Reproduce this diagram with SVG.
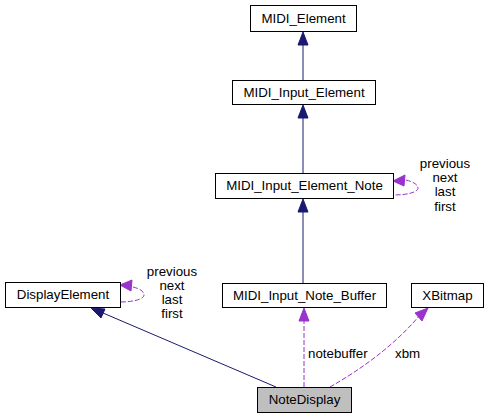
<svg xmlns="http://www.w3.org/2000/svg" width="488" height="419" viewBox="0 0 488 419">
<defs>
<style>
.box{fill:#ffffff;stroke:#000000;stroke-width:1}
.cur{fill:#bfbfbf;stroke:#000000;stroke-width:1}
text{font-family:"Liberation Sans",Arial,sans-serif;font-size:13.3px;fill:#000000}
.c{text-anchor:middle}
.inh{stroke:#191970;stroke-width:1;fill:none}
.use{stroke:#9a32cd;stroke-width:1;fill:none;stroke-dasharray:5,2}
.ahb{fill:#191970;stroke:#191970}
.ahp{fill:#9a32cd;stroke:#9a32cd}
</style>
</defs>
<rect width="488" height="419" fill="#ffffff"/>
<g id="edges">
<!-- inheritance -->
<line class="inh" x1="303" y1="80" x2="303" y2="45"/>
<polygon class="ahb" points="303,32 298,45 308,45"/>
<line class="inh" x1="303" y1="173" x2="303" y2="118"/>
<polygon class="ahb" points="303,105 298,118 308,118"/>
<line class="inh" x1="303" y1="283" x2="303" y2="212"/>
<polygon class="ahb" points="303,199 298,212 308,212"/>
<line class="inh" x1="276" y1="387" x2="103" y2="313"/>
<polygon class="ahb" points="91,308 101,318 105,309"/>
<!-- usage -->
<line class="use" x1="304" y1="387" x2="304" y2="321"/>
<polygon class="ahp" points="304,308 299,321 309,321"/>
<path class="use" d="M330,387 C360,370 395,345 419,316"/>
<polygon class="ahp" points="428,308 415,313 422,321"/>
<path class="use" d="M406,180 C414,182 418,185 418,188 C418,192 408,195 393,195"/>
<polygon class="ahp" points="393,181 405,175 404,186"/>
<path class="use" d="M133,287 C141,289 144,292 144,295 C144,299 134,302 120,302"/>
<polygon class="ahp" points="120,285 132,280 131,291"/>
<text x="308" y="358">notebuffer</text>
<text x="395" y="358">xbm</text>
<text class="c" x="445" y="168">previous</text>
<text class="c" x="445" y="182">next</text>
<text class="c" x="445" y="196">last</text>
<text class="c" x="445" y="211">first</text>
<text class="c" x="172" y="276">previous</text>
<text class="c" x="172" y="290">next</text>
<text class="c" x="172" y="304">last</text>
<text class="c" x="172" y="318">first</text>
</g>
<g id="MIDI_Element">
<rect class="box" x="250.5" y="5.5" width="106" height="26"/>
<text class="c" x="303.5" y="23">MIDI_Element</text>
</g>
<g id="MIDI_Input_Element">
<rect class="box" x="232.5" y="80.5" width="143" height="24"/>
<text class="c" x="304" y="97">MIDI_Input_Element</text>
</g>
<g id="MIDI_Input_Element_Note">
<rect class="box" x="215.5" y="173.5" width="178" height="25"/>
<text class="c" x="304.5" y="190">MIDI_Input_Element_Note</text>
</g>
<g id="DisplayElement">
<rect class="box" x="5.5" y="282.5" width="115" height="25"/>
<text class="c" x="63" y="299">DisplayElement</text>
</g>
<g id="MIDI_Input_Note_Buffer">
<rect class="box" x="222.5" y="283.5" width="164" height="24"/>
<text class="c" x="304.5" y="300">MIDI_Input_Note_Buffer</text>
</g>
<g id="XBitmap">
<rect class="box" x="411.5" y="283.5" width="72" height="24"/>
<text class="c" x="447.5" y="300">XBitmap</text>
</g>
<g id="NoteDisplay">
<rect class="cur" x="257.5" y="387.5" width="94" height="25"/>
<text class="c" x="304.5" y="404">NoteDisplay</text>
</g>
</svg>
